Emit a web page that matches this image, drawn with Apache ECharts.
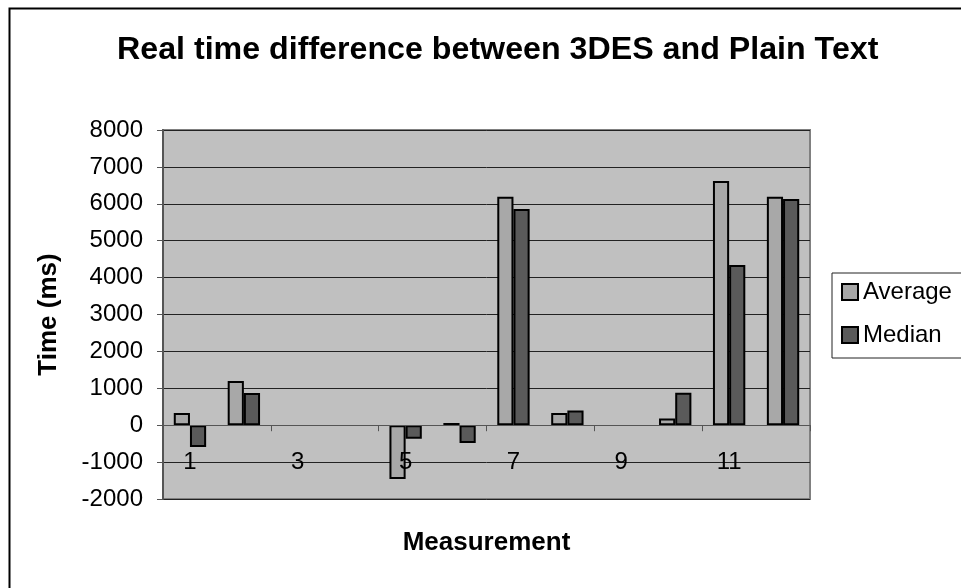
<!DOCTYPE html>
<html>
<head>
<meta charset="utf-8">
<title>Real time difference between 3DES and Plain Text</title>
<script src="https://cdn.jsdelivr.net/npm/echarts@6/dist/echarts.min.js"></script>
<style>
    html, body { margin: 0; padding: 0; background: #fff; }
    #chart { width: 961px; height: 588px; }
</style>
</head>
<body>
<div id="chart"></div>
<script>
// 测量序号
var measurements = ['1', '2', '3', '4', '5', '6', '7', '8', '9', '10', '11', '12'];
// 平均值 (ms)，null 表示没有柱子
var averageValues = [330, 1200, null, null, -1460, 60, 6190, 330, null, 180, 6620, 6190];
// 中位数 (ms)
var medianValues = [-590, 875, null, null, -370, -480, 5860, 400, null, 880, 4340, 6130];
// y 轴范围
var yMin = -2000;
var yMax = 8000;
var yStep = 1000;

window.addEventListener('load', function () {
    var myChart = echarts.init(document.getElementById('chart'));
    var font = 'Liberation Sans, Arial, sans-serif';

    var option = {
        backgroundColor: '#ffffff',
        animation: false,
        textStyle: { fontFamily: font },
        title: {
            text: 'Real time difference between 3DES and Plain Text',
            left: 117,
            top: 34,
            padding: 0,
            textStyle: { fontSize: 32.2, fontWeight: 'bold', color: '#000', fontFamily: font }
        },
        // 外框
        graphic: [{
            type: 'rect',
            left: 7,
            top: 6,
            shape: { width: 1100, height: 1000 },
            style: { fill: 'none', stroke: '#000', lineWidth: 2 },
            silent: true
        }],
        legend: {
            orient: 'vertical',
            left: 832,
            top: 273,
            padding: [7, 60, 11, 9],
            itemGap: 19,
            itemWidth: 16,
            itemHeight: 16,
            borderColor: '#222',
            borderWidth: 1,
            icon: 'rect',
            textStyle: { fontSize: 24, color: '#000', fontFamily: font },
            data: ['Average', 'Median']
        },
        grid: {
            left: 163,
            right: 151,
            top: 130,
            bottom: 89,
            containLabel: false,
            outerBoundsMode: 'none',
            show: true,
            backgroundColor: '#c0c0c0',
            borderColor: '#808080',
            borderWidth: 2
        },
        xAxis: {
            type: 'category',
            data: measurements,
            z: 3, // 标签画在柱子上面
            name: 'Measurement',
            nameLocation: 'middle',
            nameGap: 31,
            nameTextStyle: { fontSize: 26, fontWeight: 'bold', color: '#000', fontFamily: font },
            axisLine: { onZero: true, lineStyle: { color: '#555', width: 1 } },
            axisTick: { show: true, length: 6, lineStyle: { color: '#555' } },
            // 标签挨着 0 线下方
            axisLabel: { interval: 1, margin: -49, fontSize: 24, color: '#000', fontFamily: font },
            splitLine: { show: false }
        },
        yAxis: {
            type: 'value',
            min: yMin,
            max: yMax,
            interval: yStep,
            name: 'Time (ms)',
            nameLocation: 'middle',
            nameGap: 101,
            nameRotate: 90,
            nameTextStyle: { fontSize: 26, fontWeight: 'bold', color: '#000', fontFamily: font },
            axisLine: { show: true, lineStyle: { color: '#555', width: 2 } },
            axisTick: { show: true, length: 6, lineStyle: { color: '#555' } },
            axisLabel: {
                margin: 20, fontSize: 24, color: '#000', fontFamily: font,
                // 不要千位分隔符
                formatter: function (v) { return String(v); }
            },
            splitLine: { show: true, lineStyle: { color: '#222', width: 1 } }
        },
        series: [{
            name: 'Average',
            type: 'bar',
            data: averageValues,
            barGap: '0%',
            barCategoryGap: '40%',
            itemStyle: { color: '#a8a8a8', borderColor: '#000', borderWidth: 2 }
        }, {
            name: 'Median',
            type: 'bar',
            data: medianValues,
            itemStyle: { color: '#5a5a5a', borderColor: '#000', borderWidth: 2 }
        }]
    };

    myChart.setOption(option);
});
</script>
</body>
</html>
